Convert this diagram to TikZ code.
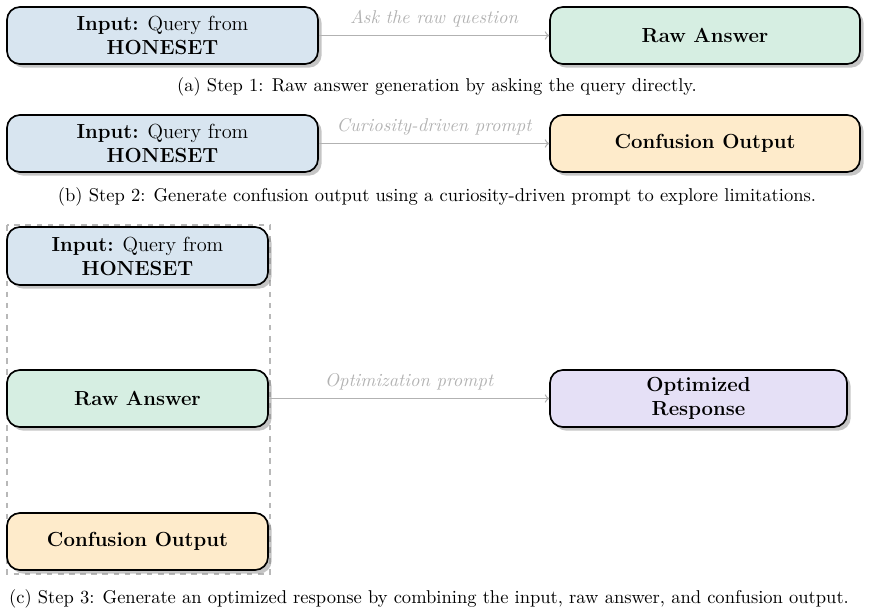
\documentclass[tikz,border=0pt]{standalone}
\usetikzlibrary{shadows}
\definecolor{cblue}{HTML}{D8E5F0}
\definecolor{cgreen}{HTML}{D6EEE2}
\definecolor{corange}{HTML}{FEEBCB}
\definecolor{cpurple}{HTML}{E5E0F6}
\begin{document}
\begin{tikzpicture}[x=0.54pt,y=-0.54pt,
 box/.style={draw=black,line width=0.9pt,rounded corners=7pt,align=center,
   font=\fontsize{11}{13}\selectfont,drop shadow={shadow xshift=2pt,shadow yshift=-2pt,fill=black!45}},
 arr/.style={draw=black!30,line width=0.7pt,->},
 lab/.style={text=black!30,font=\itshape},
 captxt/.style={font=\normalsize}]
\useasboundingbox (0,0) rectangle (870,612);
% (a)
\node[box,fill=cblue,minimum width=311*0.54pt,minimum height=57*0.54pt] (a1) at (162.5,35.5) {\textbf{Input:} Query from\\\textbf{HONESET}};
\node[box,fill=cgreen,minimum width=310*0.54pt,minimum height=57*0.54pt] (a2) at (705,35.5) {\textbf{Raw Answer}};
\draw[arr] (a1) -- node[lab,above=1pt] (la) {Ask the raw question} (a2);
\node[captxt] (ca) at (437,87) {(a) Step 1: Raw answer generation by asking the query directly.};
% (b)
\node[box,fill=cblue,minimum width=311*0.54pt,minimum height=57*0.54pt] (b1) at (162.5,143.5) {\textbf{Input:} Query from\\\textbf{HONESET}};
\node[box,fill=corange,minimum width=310*0.54pt,minimum height=57*0.54pt] (b2) at (705,143.5) {\textbf{Confusion Output}};
\draw[arr] (b1) -- node[lab,above=1pt] (lb) {Curiosity-driven prompt} (b2);
\node[captxt] (cb) at (437,197) {(b) Step 2: Generate confusion output using a curiosity-driven prompt to explore limitations.};
% (c)
\draw[black!28,dashed,line width=0.6pt] (7,225) rectangle (270,574);
\node[box,fill=cblue,minimum width=261*0.54pt,minimum height=58*0.54pt] (c1) at (137.5,256) {\textbf{Input:} Query from\\\textbf{HONESET}};
\node[box,fill=cgreen,minimum width=261*0.54pt,minimum height=57*0.54pt] (c2) at (137.5,398.5) {\textbf{Raw Answer}};
\node[box,fill=corange,minimum width=261*0.54pt,minimum height=57*0.54pt] (c3) at (137.5,541.5) {\textbf{Confusion Output}};
\node[box,fill=cpurple,minimum width=297*0.54pt,minimum height=57*0.54pt] (c4) at (698.5,398.5) {\textbf{Optimized}\\\textbf{Response}};
\draw[arr] (c2) -- node[lab,above=1pt] (lc) {Optimization prompt} (c4);
\node[captxt] (cc) at (429,599) {(c) Step 3: Generate an optimized response by combining the input, raw answer, and confusion output.};
\end{tikzpicture}
\end{document}
